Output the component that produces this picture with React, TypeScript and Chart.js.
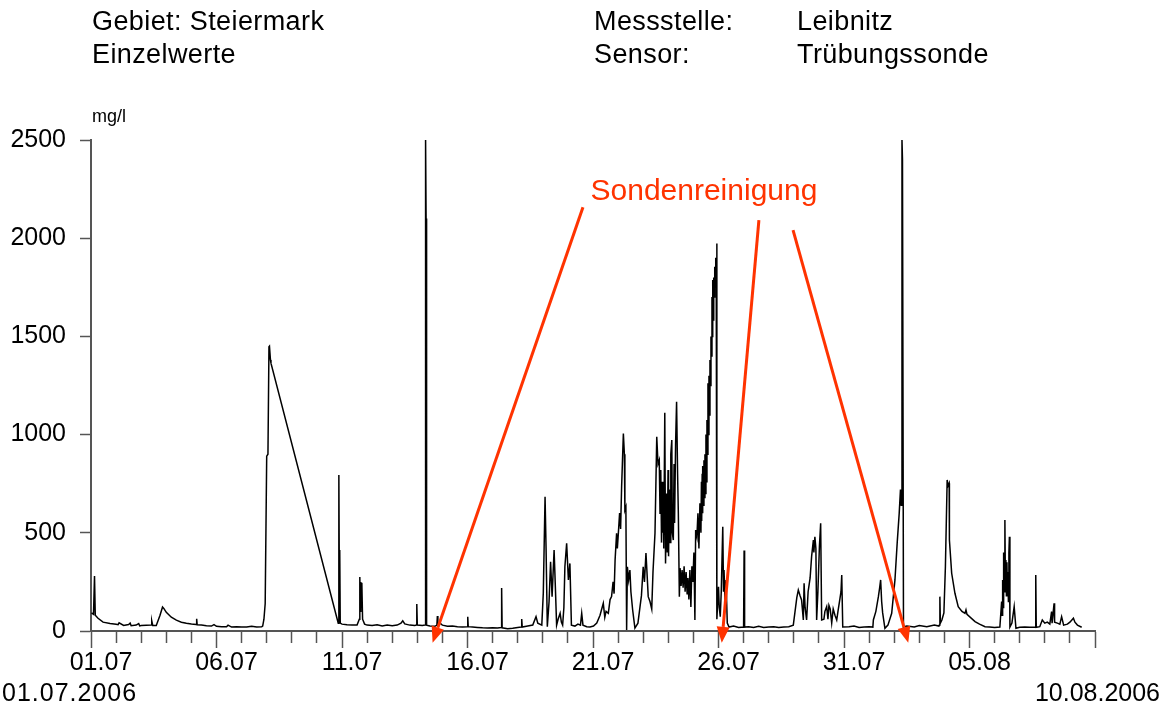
import React, { useEffect, useRef } from 'react';
import { Chart, registerables } from 'chart.js';

Chart.register(...registerables);

const FONT = '"Liberation Sans", Arial, Helvetica, sans-serif';
const RED = '#ff3300';
const AXIS = '#555555';

// Turbidity readings: [days since 01.07.2006 00:00, mg/l]
const earlyJuly: [number, number][] = [
  [0.02, 92], [0.1, 85], [0.14, 280], [0.17, 80], [0.28, 65], [0.48, 45], [0.76, 38], [1.0, 34],
  [1.08, 32], [1.12, 42], [1.3, 28], [1.5, 33], [1.56, 40], [1.6, 27], [1.8, 30], [1.9, 38],
  [1.94, 26], [2.0, 28], [2.2, 29], [2.4, 30], [2.42, 52], [2.46, 28], [2.6, 28], [2.75, 80],
  [2.85, 122], [2.9, 115], [3.0, 95], [3.2, 70], [3.4, 55], [3.6, 45], [3.8, 40], [4.0, 36],
  [4.19, 33], [4.21, 62], [4.23, 32], [4.4, 30], [4.6, 27], [4.8, 25], [4.9, 32], [5.0, 24],
  [5.2, 22], [5.4, 22], [5.46, 30], [5.6, 20], [5.8, 22], [6.0, 20], [6.2, 20], [6.4, 24],
  [6.6, 20], [6.8, 22], [6.84, 25], [6.89, 60], [6.94, 140], [7.0, 890], [7.05, 900],
  [7.09, 1447], [7.11, 1450], [7.15, 1380], [7.17, 1364],
  [9.85, 40], [9.87, 60], [9.88, 794], [9.9, 60], [9.91, 412], [9.93, 40], [10.0, 35],
  [10.2, 32], [10.4, 30], [10.6, 30], [10.69, 60], [10.71, 275], [10.73, 100], [10.75, 250],
  [10.77, 150], [10.79, 245], [10.82, 60], [10.9, 35],
];

const midJuly: [number, number][] = [
  [11.0, 30], [11.2, 28], [11.4, 32], [11.6, 26], [11.8, 30], [12.0, 27], [12.2, 30], [12.35, 40],
  [12.42, 52], [12.5, 36], [12.7, 30], [12.9, 28], [12.96, 30], [12.98, 137], [13.0, 30], [13.2, 28],
  [13.31, 30], [13.33, 2500], [13.35, 2100], [13.37, 30], [13.5, 25], [13.7, 24], [13.78, 30],
  [13.8, 76], [13.82, 28], [13.9, 40], [14.0, 30], [14.2, 24], [14.4, 25], [14.6, 22], [14.8, 20],
  [14.99, 22], [15.01, 73], [15.03, 22], [15.2, 20], [15.4, 18], [15.6, 16], [15.8, 15], [16.0, 16],
  [16.2, 15], [16.34, 18], [16.36, 219], [16.38, 16], [16.6, 12], [16.8, 14], [17.0, 18],
  [17.14, 20], [17.16, 61], [17.18, 20], [17.4, 25], [17.6, 30], [17.73, 73], [17.8, 40], [17.96, 30],
];

const lateJuly: [number, number][] = [
  [18.02, 193], [18.09, 684], [18.13, 421], [18.18, 22], [18.25, 150], [18.31, 353], [18.37, 175],
  [18.45, 412], [18.5, 226], [18.55, 30], [18.61, 60], [18.69, 90], [18.74, 45], [18.79, 30],
  [18.84, 120], [18.88, 327], [18.95, 446], [19.02, 260], [19.08, 344], [19.14, 30], [19.28, 25],
  [19.4, 35], [19.5, 30], [19.55, 90], [19.6, 30], [19.75, 22], [19.88, 20], [20.02, 25],
  [20.15, 40], [20.28, 80], [20.41, 141], [20.47, 70], [20.52, 100], [20.61, 90], [20.68, 160],
  [20.74, 175], [20.8, 250], [20.84, 190], [20.88, 361], [20.94, 498], [20.97, 420], [21.01, 497],
  [21.06, 600], [21.1, 520], [21.14, 734], [21.17, 850], [21.21, 1006], [21.25, 900], [21.27, 616],
  [21.31, 632], [21.34, 5], [21.37, 327], [21.42, 260], [21.47, 310], [21.51, 200], [21.58, 107],
  [21.67, 15], [21.79, 40], [21.87, 120], [21.93, 180], [22.0, 327], [22.05, 250], [22.11, 397],
  [22.15, 300], [22.2, 175], [22.27, 150], [22.34, 112], [22.39, 300], [22.47, 499], [22.54, 989],
  [22.59, 850], [22.64, 870], [22.67, 600], [22.7, 820], [22.73, 450], [22.75, 760], [22.78, 500],
  [22.79, 753], [22.82, 420], [22.86, 1111], [22.89, 344], [22.93, 700], [22.96, 400], [22.99, 820],
  [23.01, 380], [23.04, 720], [23.07, 450], [23.1, 900], [23.14, 972], [23.16, 500], [23.2, 463],
  [23.23, 850], [23.25, 550], [23.29, 950], [23.33, 1167], [23.37, 800], [23.4, 600], [23.44, 175],
  [23.47, 320], [23.51, 230], [23.55, 310], [23.59, 220], [23.63, 330], [23.67, 200], [23.71, 300],
  [23.75, 190], [23.78, 270], [23.82, 160], [23.86, 310], [23.9, 122], [23.94, 330], [23.98, 250],
  [24.02, 400], [24.06, 56], [24.09, 514], [24.14, 480], [24.18, 600], [24.22, 420], [24.26, 650],
  [24.3, 500], [24.32, 760], [24.33, 560], [24.35, 800], [24.36, 600], [24.38, 840], [24.4, 640],
  [24.42, 870], [24.44, 680], [24.46, 900], [24.48, 700], [24.5, 1000], [24.52, 760], [24.54, 1074],
  [24.56, 900], [24.58, 1262], [24.6, 1000], [24.62, 1300], [24.64, 1100], [24.66, 1380],
  [24.68, 1250], [24.7, 1500], [24.72, 1400], [24.74, 1700], [24.76, 1500], [24.77, 1787],
  [24.79, 1583], [24.81, 1800], [24.83, 1700], [24.85, 1854], [24.87, 1750], [24.89, 1900],
  [24.91, 1800], [24.93, 1973], [24.94, 60], [25.0, 225], [25.03, 120], [25.07, 73], [25.11, 200],
  [25.17, 531], [25.2, 200], [25.22, 310], [25.26, 150], [25.3, 260], [25.35, 40], [25.42, 20],
];

const endJulyAugust: [number, number][] = [
  [25.6, 25], [25.8, 18], [26.0, 20], [26.02, 410], [26.04, 20], [26.2, 22], [26.4, 18], [26.6, 24],
  [26.8, 18], [27.0, 20], [27.2, 22], [27.4, 18], [27.6, 20], [27.8, 22], [27.98, 30], [28.05, 100],
  [28.12, 170], [28.18, 209], [28.25, 180], [28.31, 158], [28.38, 56], [28.41, 243], [28.45, 120],
  [28.51, 56], [28.57, 200], [28.65, 270], [28.71, 380], [28.78, 463], [28.8, 400], [28.84, 480],
  [28.88, 420], [28.91, 56], [28.96, 200], [29.02, 429], [29.07, 548], [29.11, 56], [29.2, 60],
  [29.24, 100], [29.31, 124], [29.36, 60], [29.4, 130], [29.45, 112], [29.51, 41], [29.57, 112],
  [29.64, 80], [29.71, 56], [29.76, 100], [29.84, 166], [29.88, 200], [29.91, 285], [29.95, 20],
  [30.2, 22], [30.4, 25], [30.6, 18], [30.8, 20], [31.0, 22], [31.15, 20], [31.17, 56], [31.27, 100],
  [31.37, 175], [31.42, 220], [31.46, 260], [31.5, 150], [31.54, 92], [31.63, 14], [31.75, 30],
  [31.9, 90], [32.03, 260], [32.12, 450], [32.2, 600], [32.25, 720], [32.28, 640], [32.31, 2500],
  [32.33, 2400], [32.37, 20], [32.5, 25], [32.8, 20], [33.0, 28], [33.3, 22], [33.6, 30],
  [33.78, 25], [33.8, 30], [33.82, 175], [33.84, 40], [33.9, 56], [33.98, 92], [34.04, 327],
  [34.11, 769], [34.15, 740], [34.19, 752], [34.2, 463], [34.29, 294], [34.42, 192], [34.55, 124],
  [34.7, 100], [34.82, 90], [34.86, 107], [34.9, 85], [35.22, 48], [35.4, 35], [35.62, 22],
  [35.8, 20], [36.0, 18], [36.21, 20], [36.28, 150], [36.3, 80], [36.32, 260], [36.34, 120],
  [36.36, 400], [36.38, 200], [36.41, 565], [36.43, 250], [36.45, 361], [36.47, 180], [36.49, 350],
  [36.51, 192], [36.53, 300], [36.55, 150], [36.57, 400], [36.59, 480], [36.61, 20], [36.69, 40],
  [36.78, 124], [36.85, 14], [37.0, 19], [37.2, 20], [37.4, 19], [37.62, 19], [37.64, 285],
  [37.66, 19], [37.8, 22], [37.9, 56], [38.0, 40], [38.1, 45], [38.2, 35], [38.27, 99], [38.29, 40],
  [38.37, 141], [38.39, 45], [38.5, 40], [38.6, 35], [38.67, 73], [38.75, 30], [38.9, 35],
  [39.0, 45], [39.14, 65], [39.2, 45], [39.3, 30], [39.47, 19],
];

// Axis labels: one label every five days, tick marks every day
const dayTickLabels = ['01.07', '06.07', '11.07', '16.07', '21.07', '26.07', '31.07', '05.08'];
const periodDays = 40;
const mgTicks = [0, 500, 1000, 1500, 2000, 2500];

// Probe cleaning events (arrow tips on the time axis) and where each arrow starts
const cleaningDays = [13.61, 25.13, 32.56];
const arrowTails: [number, number][] = [[19.6, 2158], [26.61, 2092], [27.97, 2041]];
const arrowTipMg = -60;
const noteText = 'Sondenreinigung';
const noteAnchor: [number, number] = [24.42, 2235];

const cleaningNote = {
  id: 'cleaningNote',
  afterDatasetsDraw(chart: any) {
    const { ctx } = chart;
    const x = chart.scales.x;
    const y = chart.scales.y;
    ctx.save();
    ctx.strokeStyle = RED;
    ctx.fillStyle = RED;
    ctx.lineWidth = 3;
    ctx.lineCap = 'butt';
    cleaningDays.forEach((day, i) => {
      const [tailDay, tailMg] = arrowTails[i];
      const x0 = x.getPixelForValue(tailDay);
      const y0 = y.getPixelForValue(tailMg);
      const x1 = x.getPixelForValue(day);
      const y1 = y.getPixelForValue(arrowTipMg);
      const ang = Math.atan2(y1 - y0, x1 - x0);
      const head = 16;
      const half = 6.5;
      const bx = x1 - head * Math.cos(ang);
      const by = y1 - head * Math.sin(ang);
      ctx.beginPath();
      ctx.moveTo(x0, y0);
      ctx.lineTo(bx, by);
      ctx.stroke();
      ctx.beginPath();
      ctx.moveTo(x1, y1);
      ctx.lineTo(bx + half * Math.sin(ang), by - half * Math.cos(ang));
      ctx.lineTo(bx - half * Math.sin(ang), by + half * Math.cos(ang));
      ctx.closePath();
      ctx.fill();
    });
    ctx.font = `30px ${FONT}`;
    ctx.textAlign = 'center';
    ctx.textBaseline = 'middle';
    ctx.fillText(noteText, x.getPixelForValue(noteAnchor[0]), y.getPixelForValue(noteAnchor[1]));
    ctx.restore();
  },
};

const textStyle = (left: number, top: number, size: number, spacing = 0): React.CSSProperties => ({
  position: 'absolute',
  left,
  top,
  fontFamily: FONT,
  fontSize: size,
  lineHeight: `${size}px`,
  letterSpacing: spacing,
  color: '#000',
  whiteSpace: 'nowrap',
});

export default function App() {
  const canvasRef = useRef<HTMLCanvasElement | null>(null);

  useEffect(() => {
    const canvas = canvasRef.current;
    if (!canvas) return;
    const points = [...earlyJuly, ...midJuly, ...lateJuly, ...endJulyAugust].map(([d, v]) => ({ x: d, y: v }));
    const chart = new Chart(canvas, {
      type: 'line',
      data: {
        datasets: [
          {
            data: points,
            borderColor: '#000000',
            borderWidth: 1.5,
            pointRadius: 0,
            tension: 0,
            fill: false,
          },
        ],
      },
      options: {
        responsive: false,
        animation: false,
        events: [],
        layout: { padding: { left: 0, top: 140, right: 73, bottom: 0 } },
        plugins: { legend: { display: false }, tooltip: { enabled: false }, title: { display: false } },
        scales: {
          x: {
            type: 'linear',
            min: 0,
            max: periodDays,
            afterFit: (s: any) => {
              s.height = 75;
            },
            afterBuildTicks: (s: any) => {
              s.ticks = Array.from({ length: periodDays + 1 }, (_, i) => ({ value: i }));
            },
            ticks: {
              autoSkip: false,
              maxRotation: 0,
              minRotation: 0,
              padding: 0,
              labelOffset: 10,
              color: '#000',
              font: { family: FONT, size: 25 },
              callback: (v: any) => {
                const n = Number(v);
                return n % 5 === 0 && n / 5 < dayTickLabels.length ? dayTickLabels[n / 5] : '';
              },
            },
            grid: {
              drawOnChartArea: false,
              drawTicks: true,
              tickLength: 17,
              tickWidth: 1.5,
              tickColor: AXIS,
              tickBorderDash: (ctx: any) => (ctx.tick && ctx.tick.value % 5 === 0 ? [] : [11, 40]),
            },
            border: { display: true, color: AXIS, width: 2 },
          },
          y: {
            type: 'linear',
            min: 0,
            max: 2500,
            afterFit: (s: any) => {
              s.width = 91;
            },
            afterBuildTicks: (s: any) => {
              s.ticks = mgTicks.map((v) => ({ value: v }));
            },
            ticks: {
              padding: 14,
              color: '#000',
              font: { family: FONT, size: 25 },
              callback: (v: any) => String(v),
            },
            grid: {
              drawOnChartArea: false,
              drawTicks: true,
              tickLength: 11,
              tickWidth: 1.5,
              tickColor: AXIS,
            },
            border: { display: true, color: AXIS, width: 2 },
          },
        },
      },
      plugins: [cleaningNote],
    });
    return () => chart.destroy();
  }, []);

  return (
    <div style={{ position: 'absolute', left: 0, top: 0, width: 1168, height: 706, background: '#fff', overflow: 'hidden' }}>
      <canvas ref={canvasRef} width={1168} height={706} style={{ display: 'block', width: 1168, height: 706 }} />
      <div style={textStyle(92, 8, 27, 0.4)}>Gebiet: Steiermark</div>
      <div style={textStyle(92, 41, 27, 0.4)}>Einzelwerte</div>
      <div style={textStyle(594, 8, 27, 0.4)}>Messstelle:</div>
      <div style={textStyle(797, 8, 27, 0.4)}>Leibnitz</div>
      <div style={textStyle(594, 41, 27, 0.4)}>Sensor:</div>
      <div style={textStyle(797, 41, 27, 0.4)}>Trübungssonde</div>
      <div style={textStyle(92, 107, 18)}>mg/l</div>
      <div style={textStyle(2, 680, 25, 1)}>01.07.2006</div>
      <div style={{ ...textStyle(0, 680, 25), left: 'auto', right: 8 }}>10.08.2006</div>
    </div>
  );
}
